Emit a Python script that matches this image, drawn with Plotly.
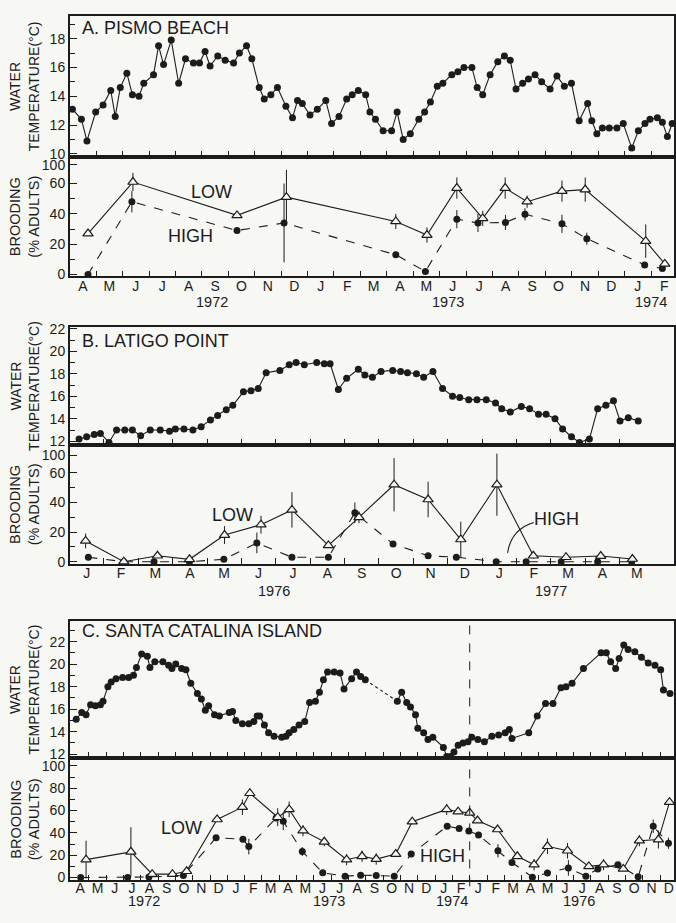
import plotly.graph_objects as go

# ---------------- DATA (x = months since first month of panel) ----------------
# Panel A: Pismo Beach (x0 = 1 Apr 1972)
A_TEMP_M = [0.10, 0.44, 0.65, 0.98, 1.26, 1.55, 1.72, 1.91, 2.16, 2.37, 2.62, 2.80, 3.17, 3.36, 3.55,
            3.84, 4.12, 4.38, 4.68, 4.91, 5.12, 5.31, 5.60, 5.88, 6.20, 6.42, 6.69, 6.89, 7.17, 7.36,
            7.61, 7.86, 8.18, 8.43, 8.62, 8.80, 9.09, 9.37, 9.69, 9.91, 10.19, 10.48, 10.69, 10.92,
            11.20, 11.36, 11.57, 11.86, 12.18, 12.39, 12.62, 12.89, 13.21, 13.43, 13.65, 13.91, 14.12,
            14.46, 14.69, 14.92, 15.22, 15.42, 15.63, 15.91, 16.20, 16.45, 16.67, 16.89, 17.14, 17.36,
            17.61, 17.86, 18.18, 18.44, 18.72, 18.99, 19.28, 19.60, 19.76, 19.95, 20.16, 20.42, 20.71,
            20.95, 21.27, 21.52, 21.77, 21.96, 22.24, 22.43, 22.62, 22.80]
A_TEMP_C = [13.1, 12.4, 10.9, 12.9, 13.4, 14.4, 12.6, 14.6, 15.6, 14.1, 14.0, 14.9, 15.5, 17.5, 16.2,
            17.9, 14.9, 16.6, 16.3, 16.3, 17.1, 16.1, 16.8, 16.5, 16.3, 17.0, 17.5, 16.6, 14.6, 13.8,
            14.1, 14.6, 13.3, 12.5, 13.7, 13.5, 12.7, 13.1, 13.7, 12.1, 12.6, 13.8, 14.1, 14.4,
            14.1, 12.9, 12.4, 11.6, 11.6, 12.9, 11.0, 11.4, 12.4, 12.9, 13.6, 14.7, 14.9,
            15.5, 15.7, 16.0, 16.0, 14.6, 14.1, 15.5, 16.4, 16.8, 16.5, 14.5, 14.9, 15.2,
            15.5, 15.0, 14.5, 15.4, 14.7, 14.9, 12.3, 13.5, 12.3, 11.4, 11.8, 11.8, 11.8,
            12.1, 10.4, 11.6, 12.1, 12.4, 12.5, 12.2, 11.2, 12.1]
A_LOW_M = [0.69, 2.39, 6.33, 8.20, 12.34, 13.52, 14.65, 15.63, 16.48, 17.31, 18.63, 19.51, 21.80, 22.52]
A_LOW = [27, 61, 39, 51, 35, 26, 57, 37, 57, 48, 55, 56, 22, 7]
A_LOW_ERR = [0, 6, 0, 18, 5, 5, 7, 5, 7, 4, 7, 8, 11, 0]
A_HIGH_M = [0.69, 2.35, 6.33, 8.11, 12.34, 13.46, 14.65, 15.45, 16.49, 17.23, 18.63, 19.57, 21.76, 22.43]
A_HIGH = [0, 48, 29, 34, 13, 2, 36.5, 34, 34.3, 39.7, 33.4, 23.6, 6.3, 3.9]
A_HIGH_ERR = [0, 7, 0, 26, 0, 0, 6, 6, 5, 4, 6, 4, 0, 0]
A_MONTHS = list("AMJJASONDJFMAMJJASONDJF")

# Panel B: Latigo Point (x0 = 1 Jan 1976)
B_TEMP_M = [0.28, 0.50, 0.72, 0.90, 1.15, 1.37, 1.61, 1.83, 2.07, 2.35, 2.64, 2.91, 3.08, 3.33, 3.59,
            3.83, 4.10, 4.31, 4.56, 4.75, 5.06, 5.28, 5.49, 5.72, 6.12, 6.39, 6.59, 6.83, 7.19, 7.41,
            7.58, 7.82, 8.06, 8.40, 8.59, 8.81, 9.06, 9.40, 9.63, 9.83, 10.09, 10.30, 10.57, 10.85,
            11.14, 11.35, 11.61, 11.85, 12.12, 12.39, 12.57, 12.82, 13.14, 13.38, 13.64, 13.86, 14.12,
            14.34, 14.60, 14.83, 15.12, 15.36, 15.60, 15.82, 16.01, 16.25, 16.54]
B_TEMP_C = [12.2, 12.4, 12.6, 12.7, 11.9, 13.0, 13.0, 13.0, 12.5, 13.0, 13.0, 12.9, 13.1, 13.1, 13.0,
            13.3, 13.9, 14.3, 14.8, 15.2, 16.4, 16.5, 16.7, 18.1, 18.3, 18.8, 19.0, 18.8, 19.0, 18.9,
            18.9, 16.6, 17.6, 18.4, 17.9, 17.7, 18.2, 18.3, 18.2, 18.1, 18.0, 17.7, 18.2, 16.7,
            16.0, 15.9, 15.7, 15.7, 15.7, 15.4, 14.9, 14.6, 15.1, 14.9, 14.4, 14.4, 14.0,
            13.1, 12.4, 11.9, 12.2, 14.9, 15.2, 15.6, 13.8, 14.1, 13.8]
B_LOW_M = [0.47, 1.58, 2.56, 3.49, 4.51, 5.57, 6.47, 7.53, 8.42, 9.44, 10.43, 11.38, 12.43, 13.49, 14.44, 15.45, 16.37]
B_LOW = [14, 0, 4, 1.6, 18, 25, 35, 11, 30, 52, 42, 15, 52, 4, 3, 3.8, 1.8]
B_LOW_ERR = [5, 0, 0, 0, 6, 6, 12, 0, 4, 18, 12, 12, 21, 2, 0, 0, 0]
B_HIGH_M = [0.55, 1.58, 2.46, 3.49, 4.49, 5.45, 6.47, 7.53, 8.30, 9.41, 10.43, 11.25, 12.41, 13.28, 14.30, 15.36, 16.35]
B_HIGH = [3, 0, 0, 0, 1.6, 12.7, 3, 3, 33, 12, 4, 3, 0, 0, 0, 0, 0]
B_HIGH_ERR = [0, 0, 0, 0, 0, 7, 0, 0, 7, 0, 0, 0, 0, 0, 0, 0, 0]
B_MONTHS = list("JFMAMJJASONDJFMAM")

# Panel C: Santa Catalina Island (x0 = 1 Apr 1972; Jan 1976 starts at 23)
C_TEMP1_M = [0.27, 0.59, 0.84, 1.10, 1.38, 1.67, 1.82, 2.10, 2.29, 2.57, 2.95, 3.30, 3.58, 3.75, 4.05,
             4.38, 4.53, 4.81, 5.28, 5.61, 5.80, 6.02, 6.36, 6.61, 6.89, 7.27, 7.50, 7.73, 7.92, 8.26,
             8.54, 9.11, 9.30, 9.49, 9.87, 10.24, 10.53, 10.72, 10.87, 11.14, 11.38, 11.70, 12.14,
             12.39, 12.57, 12.84, 13.14, 13.47, 13.75, 14.09, 14.32, 14.55, 14.79, 15.17, 15.51,
             15.74, 16.18, 16.46, 16.70, 16.97]
C_TEMP1_C = [15.1, 15.7, 15.5, 16.4, 16.3, 16.4, 16.7, 18.0, 18.4, 18.7, 18.8, 18.8, 19.0, 19.7, 20.9,
             20.7, 19.7, 20.2, 20.2, 19.9, 19.6, 20.0, 19.6, 19.5, 18.3, 17.4, 16.9, 15.9, 16.3, 15.5,
             15.4, 15.7, 15.8, 15.0, 14.7, 14.7, 14.9, 15.4, 15.4, 14.6, 13.9, 13.6, 13.5,
             13.6, 13.9, 14.2, 14.6, 14.9, 16.6, 16.7, 17.5, 18.6, 19.3, 19.3, 19.2,
             17.8, 18.7, 19.3, 18.9, 18.6]
C_TEMP2_M = [18.82, 19.07, 19.36, 19.58, 19.87, 20.00, 20.34, 20.59, 20.87, 21.48, 21.67, 21.89, 22.09,
             22.33, 22.61, 22.90, 23.12, 23.47, 23.85, 24.28, 24.67, 25.05, 25.29, 25.44, 26.41, 26.90,
             27.38, 27.81, 28.27, 28.56, 28.91, 29.57, 30.59, 30.89, 31.14, 31.43, 31.63, 31.90, 32.15,
             32.54, 32.92, 33.31, 33.70, 34.03, 34.19, 34.57]
C_TEMP2_C = [16.7, 17.5, 16.6, 16.2, 15.5, 14.3, 13.9, 13.3, 13.5, 12.6, 11.8, 11.8, 12.2,
             12.8, 13.0, 13.1, 13.5, 13.3, 13.1, 13.6, 13.7, 13.9, 14.2, 13.4, 13.9, 15.4,
             16.5, 16.5, 17.9, 18.0, 18.3, 19.6, 21.0, 21.0, 20.2, 19.6, 20.5, 21.7, 21.3,
             21.1, 20.6, 20.1, 19.9, 19.5, 17.7, 17.4]
C_LOW_M = [0.84, 3.43, 4.66, 5.83, 6.65, 8.41, 9.87, 10.30, 11.91, 12.57, 13.37, 14.60, 15.89, 16.78, 17.60,
           18.73, 19.68, 21.67, 22.33, 23.00, 23.45, 24.61, 25.75, 26.72, 27.49, 28.65, 29.88, 30.73, 31.87,
           32.80, 33.90, 34.54]
C_LOW = [16, 23, 3, 3, 5.6, 52, 63, 75.5, 54, 61, 42, 32, 16, 19, 16.5,
         21, 50, 61, 59, 58, 51, 43, 19, 11.5, 28, 24, 10, 11.5, 7.7,
         33, 34, 67.5]
C_LOW_ERR = [17, 22, 0, 0, 0, 0, 7, 0, 8, 7, 5, 4, 5, 5, 5,
             0, 0, 5, 0, 0, 0, 0, 0, 5, 7, 7, 0, 5, 0,
             5, 8, 0]
C_HIGH_M = [0.53, 3.24, 4.47, 6.46, 8.35, 9.90, 10.24, 11.82, 12.23, 13.33, 14.51, 15.80, 16.70, 17.60, 18.64,
            19.62, 21.70, 22.39, 22.95, 23.51, 24.63, 25.44, 26.62, 27.49, 28.70, 29.71, 30.40, 31.56, 32.73,
            33.60, 34.48]
C_HIGH = [0, 0, 0.5, 1.8, 35.7, 34.2, 27.7, 53.4, 50.4, 23.3, 4.2, 1.2, 2.1, 1.8, 1.2,
          21, 46, 44, 41.6, 38, 23.9, 13.5, 0.3, 4.1, 8.6, 1.2, 7.7, 11.5, 0.6,
          46, 30.7]
C_HIGH_ERR = [0, 0, 0, 0, 0, 0, 7, 0, 8, 4, 0, 0, 0, 0, 0,
              0, 0, 0, 0, 0, 6, 0, 0, 0, 7, 0, 0, 0, 0,
              6, 5]
C_MONTHS = list("AMJJASONDJFMAMJJASONDJF") + list("JFMAMJJASOND")

# ---------------- STYLE ----------------
W, H = 676, 923
BG = "#f7f7f4"
INK = "#1c1c1c"
FONT = "Liberation Sans, Arial, Helvetica, sans-serif"
XL = 70 / W


def yp(p):
    return 1 - p / H


fig = go.Figure()


def temp_trace(x, y, xa, ya):
    fig.add_trace(go.Scatter(x=x, y=y, xaxis=xa, yaxis=ya, mode="lines+markers",
                             line=dict(color=INK, width=1.1),
                             marker=dict(color=INK, size=7), showlegend=False, cliponaxis=False))


def brood_traces(lm, lv, le, hm, hv, he, xa, ya):
    fig.add_trace(go.Scatter(x=hm, y=hv, xaxis=xa, yaxis=ya, mode="lines+markers",
                             line=dict(color=INK, width=1.1, dash="dash"),
                             marker=dict(color=INK, size=7),
                             error_y=dict(type="data", array=he, color=INK, thickness=1, width=0),
                             showlegend=False, cliponaxis=False))
    fig.add_trace(go.Scatter(x=lm, y=lv, xaxis=xa, yaxis=ya, mode="lines+markers",
                             line=dict(color=INK, width=1.1),
                             marker=dict(symbol="triangle-up", color=BG, size=9,
                                         line=dict(color=INK, width=1.2)),
                             error_y=dict(type="data", array=le, color=INK, thickness=1, width=0),
                             showlegend=False, cliponaxis=False))


temp_trace(A_TEMP_M, A_TEMP_C, "x", "y")
brood_traces(A_LOW_M, A_LOW, A_LOW_ERR, A_HIGH_M, A_HIGH, A_HIGH_ERR, "x2", "y2")
temp_trace(B_TEMP_M, B_TEMP_C, "x3", "y3")
brood_traces(B_LOW_M, B_LOW, B_LOW_ERR, B_HIGH_M, B_HIGH, B_HIGH_ERR, "x4", "y4")
temp_trace(C_TEMP1_M, C_TEMP1_C, "x5", "y5")
fig.add_trace(go.Scatter(x=[C_TEMP1_M[-1], C_TEMP2_M[0]], y=[C_TEMP1_C[-1], C_TEMP2_C[0]],
                         xaxis="x5", yaxis="y5", mode="lines",
                         line=dict(color=INK, width=1.1, dash="dot"), showlegend=False))
temp_trace(C_TEMP2_M, C_TEMP2_C, "x5", "y5")
brood_traces(C_LOW_M, C_LOW, C_LOW_ERR, C_HIGH_M, C_HIGH, C_HIGH_ERR, "x6", "y6")

tickfont = dict(family=FONT, size=14, color=INK)


def xaxis(rng, anchor, months, labels, standoff=-4):
    n = len(months)
    return dict(domain=[XL, 1], range=rng, anchor=anchor, showline=True, linecolor=INK, linewidth=1.6,
                mirror=True, showgrid=False, zeroline=False, ticks="", ticklen=0,
                tickmode="array", tickvals=[i + 0.5 for i in range(n)], ticktext=months,
                showticklabels=labels, tickfont=tickfont, ticklabelstandoff=standoff,
                minor=dict(tickmode="array", tickvals=list(range(1, n)), ticks="inside",
                           ticklen=6, tickwidth=1, tickcolor=INK, showgrid=False))


def yaxis(top, bot, rng, anchor, vals, texts, minor_vals):
    return dict(domain=[yp(bot), yp(top)], range=rng, anchor=anchor, showline=True, linecolor=INK,
                linewidth=1.6, mirror=True, showgrid=False, zeroline=False,
                ticks="inside", ticklen=7, tickwidth=1, tickcolor=INK,
                tickmode="array", tickvals=vals, ticktext=texts, tickfont=tickfont,
                minor=dict(tickmode="array", tickvals=minor_vals, ticks="inside", ticklen=5,
                           tickwidth=1, tickcolor=INK, showgrid=False))


TEMP_TICKS = [10, 12, 14, 16, 18, 20, 22]
brood_a_vals = [0, 20, 40, 60, 72.3]
brood_b_vals = [0, 20, 40, 60, 72]
brood_txt = ["0", "20", "40", "60", "100"]

fig.update_layout(
    width=W, height=H, margin=dict(l=0, r=0, t=0, b=0),
    paper_bgcolor=BG, plot_bgcolor=BG, showlegend=False,
    font=dict(family=FONT, color=INK),
    xaxis=xaxis([0, 22.87], "y", A_MONTHS, False),
    yaxis=yaxis(10, 153, [9.78, 19.58], "x", TEMP_TICKS, [str(v) for v in TEMP_TICKS],
                [11, 13, 15, 17, 19]),
    xaxis2=xaxis([0, 22.87], "y2", A_MONTHS, True),
    yaxis2=yaxis(153, 274, [-1.3, 77.5], "x2", brood_a_vals, brood_txt, [10, 30, 50]),
    xaxis3=xaxis([0.01, 17.58], "y3", B_MONTHS, False),
    yaxis3=yaxis(325, 445, [11.65, 22.18], "x3", TEMP_TICKS, [str(v) for v in TEMP_TICKS],
                 [13, 15, 17, 19, 21]),
    xaxis4=xaxis([0.01, 17.58], "y4", B_MONTHS, True),
    yaxis4=yaxis(445, 565, [-1.33, 78.7], "x4", brood_b_vals, brood_txt, [10, 30, 50]),
    xaxis5=xaxis([-0.1, 34.8], "y5", C_MONTHS, False),
    yaxis5=yaxis(623, 762, [11.65, 23.84], "x5", TEMP_TICKS, [str(v) for v in TEMP_TICKS],
                 [13, 15, 17, 19, 21, 23]),
    xaxis6=xaxis([-0.1, 34.8], "y6", C_MONTHS, True, standoff=-6),
    yaxis6=yaxis(762, 886, [-2.65, 107], "x6", [0, 20, 40, 60, 80, 100],
                 ["0", "20", "40", "60", "80", "100"], [10, 30, 50, 70, 90]),
)

ann = []
titles = [("A. PISMO BEACH", 22), ("B. LATIGO POINT", 339), ("C. SANTA CATALINA ISLAND", 633)]
for t, y in titles:
    ann.append(dict(text=t, x=80 / W, y=yp(y), xref="paper", yref="paper", xanchor="left",
                    yanchor="middle", showarrow=False, font=dict(family=FONT, size=18, color=INK)))
for top, bot in [(10, 153), (325, 445), (623, 762)]:
    ann.append(dict(text="WATER<br>TEMPERATURE(°C)", x=25 / W, y=yp((top + bot) / 2), xref="paper",
                    yref="paper", xanchor="center", yanchor="middle", textangle=-90, showarrow=False,
                    font=dict(family=FONT, size=14, color=INK)))
for top, bot in [(153, 274), (445, 565), (762, 886)]:
    ann.append(dict(text="BROODING<br>(% ADULTS)", x=25 / W, y=yp((top + bot) / 2), xref="paper",
                    yref="paper", xanchor="center", yanchor="middle", textangle=-90, showarrow=False,
                    font=dict(family=FONT, size=14.5, color=INK)))

lblfont = dict(family=FONT, size=18, color=INK)
for xa, ya, x, y, t in [("x2", "y2", 5.36, 54.7, "LOW"), ("x2", "y2", 4.57, 25.4, "HIGH"),
                        ("x4", "y4", 4.74, 31.3, "LOW"), ("x4", "y4", 14.16, 28.7, "HIGH"),
                        ("x6", "y6", 6.35, 44, "LOW"), ("x6", "y6", 21.45, 19.5, "HIGH")]:
    ann.append(dict(text=t, x=x, y=y, xref=xa, yref=ya, xanchor="center", yanchor="middle",
                    showarrow=False, font=lblfont))

yearfont = dict(family=FONT, size=14.5, color=INK)
for xa, x, ypx, t in [("x2", 5.4, 300, "1972"), ("x2", 14.3, 300, "1973"), ("x2", 22.0, 300, "1974"),
                      ("x4", 5.96, 593, "1976"), ("x4", 14.0, 593, "1977"),
                      ("x6", 4.2, 907, "1972"), ("x6", 14.9, 907, "1973"), ("x6", 22.0, 907, "1974"),
                      ("x6", 29.3, 907, "1976")]:
    ann.append(dict(text=t, x=x, y=yp(ypx), xref=xa, yref="paper", xanchor="center",
                    yanchor="middle", showarrow=False, font=yearfont, borderpad=0))
fig.update_layout(annotations=ann)

fig.add_shape(type="line", xref="x6", yref="paper", x0=23, x1=23, y0=yp(892), y1=yp(623),
              line=dict(color=INK, width=1, dash="dash"))
fig.add_shape(type="path", xref="x4", yref="y4", path="M 12.74,6 Q 12.85,22 13.5,26.5",
              line=dict(color=INK, width=1.1))

fig.write_html("out.html", config={"displayModeBar": False},
               post_script="document.body.style.margin='0';document.body.style.overflow='hidden';")
